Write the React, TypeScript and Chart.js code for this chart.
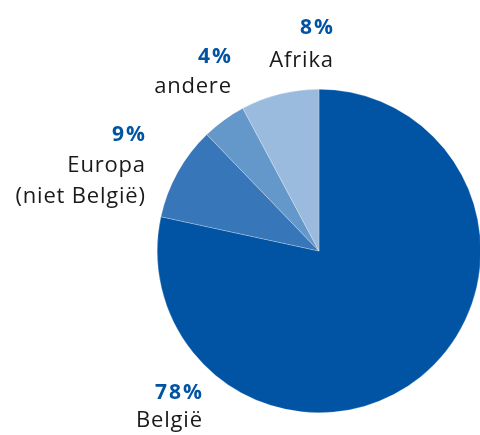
import React, { useEffect, useRef } from "react";
import { Chart, registerables } from "chart.js";

Chart.register(...registerables);

const categories = ["België", "Europa", "andere", "Afrika"];
const subLabels = ["", "(niet België)", "", ""];
const shares = [78.4, 9.4, 4.4, 7.8];
const percentLabels = ["78%", "9%", "4%", "8%"];
const colors = ["#0153A4", "#3676B9", "#6598CA", "#9BBBDE"];

// label anchor offsets (right edge, baseline of percent line) relative to pie centre
const labelOffsets = [
  { dx: -117, dy: 148, gap: 28 },
  { dx: -174, dy: -110, gap: 31 },
  { dx: -88, dy: -188, gap: 30 },
  { dx: 14, dy: -217, gap: 33 },
];

const PCT_SPACING = 2;
const LBL_SPACING = 0.8;

const labelPlugin = {
  id: "outerLabels",
  afterDraw(chart: any) {
    const ctx = chart.ctx;
    const meta = chart.getDatasetMeta(0);
    const arc = meta.data[0];
    const cx = arc.x;
    const cy = arc.y;
    ctx.save();
    ctx.textAlign = "right";
    ctx.textBaseline = "alphabetic";
    categories.forEach((cat, i) => {
      const o = labelOffsets[i];
      const x = cx + o.dx;
      const y = cy + o.dy;
      ctx.font = "bold 21px 'Open Sans'";
      ctx.letterSpacing = PCT_SPACING + "px";
      ctx.fillStyle = "#0153A4";
      ctx.fillText(percentLabels[i], x + PCT_SPACING, y);
      ctx.font = "22px 'Open Sans'";
      ctx.letterSpacing = LBL_SPACING + "px";
      ctx.fillStyle = "#1a1a1a";
      ctx.fillText(cat, x + LBL_SPACING, y + o.gap);
      if (subLabels[i]) ctx.fillText(subLabels[i], x + LBL_SPACING, y + o.gap * 2);
    });
    ctx.restore();
  },
};

export default function App() {
  const ref = useRef<HTMLCanvasElement>(null);
  useEffect(() => {
    if (!ref.current) return;
    const chart = new Chart(ref.current, {
      type: "pie",
      data: {
        labels: categories,
        datasets: [
          {
            data: shares,
            backgroundColor: colors,
            borderColor: "rgba(255,255,255,0.5)",
            borderWidth: 0.5,
          },
        ],
      },
      options: {
        responsive: false,
        animation: false,
        layout: { padding: { left: 157, top: 89, bottom: 22, right: 1 } },
        plugins: {
          legend: { display: false },
          tooltip: { enabled: false },
        },
      },
      plugins: [labelPlugin],
    });
    return () => chart.destroy();
  }, []);
  return (
    <div
      style={{
        position: "fixed",
        left: 0,
        top: 0,
        width: 480,
        height: 435,
        overflow: "hidden",
        background: "#fff",
      }}
    >
      <canvas ref={ref} width={482} height={435} style={{ width: 482, height: 435 }} />
    </div>
  );
}
